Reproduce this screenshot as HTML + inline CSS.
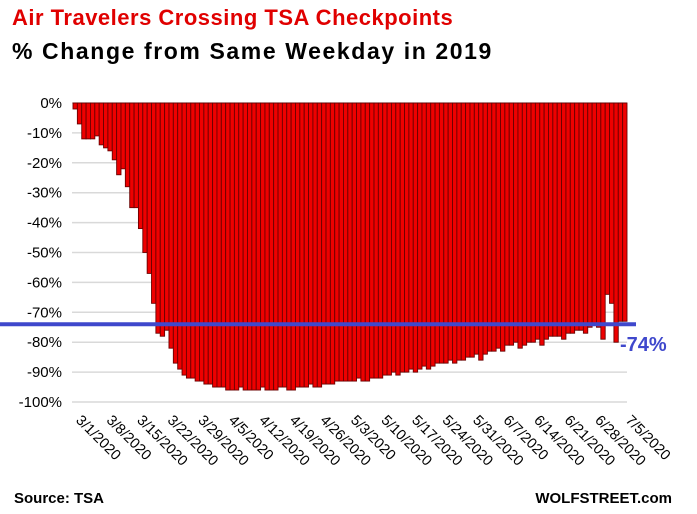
<!DOCTYPE html>
<html><head><meta charset="utf-8"><style>
body{margin:0;background:#fff;}
svg{display:block;font-family:"Liberation Sans",sans-serif;}
</style></head><body>
<svg width="697" height="514" viewBox="0 0 697 514">
<text x="12" y="25" font-size="22" font-weight="bold" fill="#e00000" letter-spacing="0.5">Air Travelers Crossing TSA Checkpoints</text>
<text x="12" y="59" font-size="23" font-weight="bold" fill="#000" letter-spacing="1.6">% Change from Same Weekday in 2019</text>
<g id="grid"></g><g id="ylabels"></g><g id="bars"></g><g id="xlabels"></g>
<line id="refline" x1="0" x2="636" stroke="#3f48cc" stroke-width="4"/>
<text id="reflabel" x="620" y="351" font-size="20" font-weight="bold" fill="#3f48cc">-74%</text>
<text x="14" y="503" font-size="15" font-weight="bold">Source: TSA</text>
<text x="672" y="503" font-size="15" font-weight="bold" text-anchor="end">WOLFSTREET.com</text>
</svg>
<script>
const values=[-2,-7,-12,-12,-12,-11,-14,-15,-16,-19,-24,-22,-28,-35,-35,-42,-50,-57,-67,-77,-78,-76,-82,-87,-89,-91,-92,-92,-93,-93,-94,-94,-95,-95,-95,
-96,-96,-96,-95,-96,-96,-96,-96,-95,-96,-96,-96,-95,-95,-96,-96,-95,-95,-95,-94,-95,-95,-94,-94,-94,-93,-93,-93,-93,-93,
-92,-93,-93,-92,-92,-92,-91,-91,-90,-91,-90,-90,-89,-90,-89,-88,-89,-88,-87,-87,-87,-86,-87,-86,-86,
-85,-85,-84,-86,-84,-83,-83,-82,-83,-81,-81,-80,-82,-81,-80,-80,-79,-81,-79,-78,-78,-78,-79,-77,-77,-76,-76,-77,-75,-74,-75,-79,-64,-67,-80,-73,-73];
const yTicks=[0,-10,-20,-30,-40,-50,-60,-70,-80,-90,-100];
const xLabels=["3/1/2020","3/8/2020","3/15/2020","3/22/2020","3/29/2020","4/5/2020","4/12/2020","4/19/2020","4/26/2020","5/3/2020","5/10/2020","5/17/2020","5/24/2020","5/31/2020","6/7/2020","6/14/2020","6/21/2020","6/28/2020","7/5/2020"];
const refValue=-74;
const NS="http://www.w3.org/2000/svg";
const x0=73,x1=627,yTop=103,yBot=402;
const bw=(x1-x0)/values.length;
const y=v=>yTop+(-v/100)*(yBot-yTop);
const xb=i=>x0+i*bw;
function mk(t,a,p){const e=document.createElementNS(NS,t);for(const k in a)e.setAttribute(k,a[k]);p.appendChild(e);return e;}
const grid=document.getElementById('grid'),yl=document.getElementById('ylabels');
yTicks.forEach(t=>{
 const l=mk('line',{x1:72,x2:627,y1:y(t),y2:y(t),stroke:'#d9d9d9','stroke-width':1.5},grid);
 
 
 const tx=mk('text',{x:62,y:y(t)+5,'font-size':15,'text-anchor':'end'},yl);
 tx.textContent=t+'%';
 
 
});
const bars=document.getElementById('bars');
values.forEach((v,i)=>{
 const r=mk('rect',{x:xb(i),y:yTop,width:bw,height:y(v)-yTop,fill:'#ee0000',stroke:'#6a0000','stroke-width':0.9},bars);
 
 
});
const xl=document.getElementById('xlabels');
xLabels.forEach((s,k)=>{
 const i=k*7,cx=xb(i)+bw/2;
 const t=mk('text',{x:cx,y:421,'font-size':14.5,transform:`rotate(45 ${cx} 421)`},xl);
 t.textContent=s;
 
 
});
const rl=document.getElementById('refline');
rl.setAttribute('y1',y(refValue));rl.setAttribute('y2',y(refValue));
</script>
</body></html>
